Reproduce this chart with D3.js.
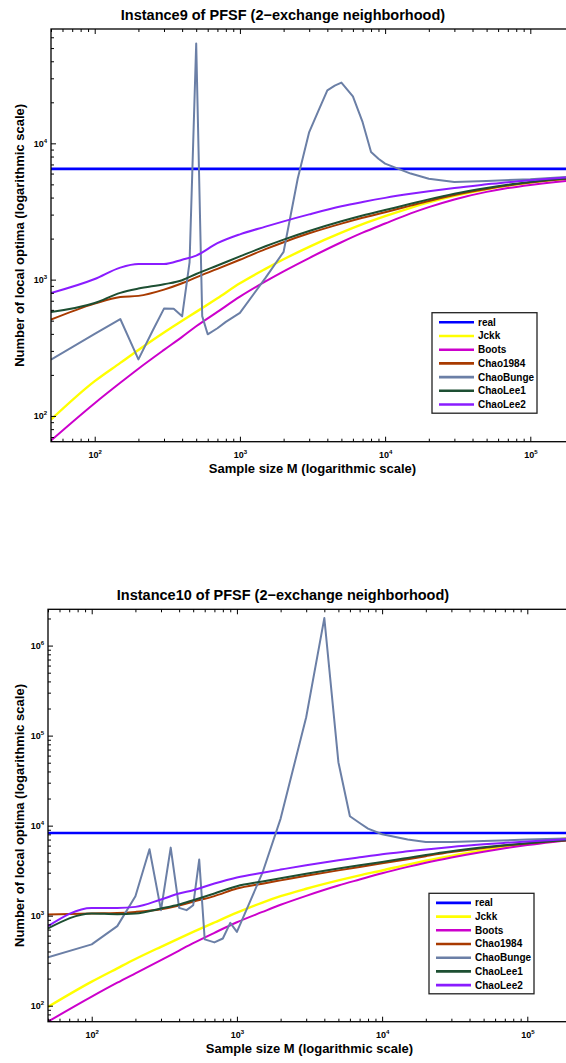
<!DOCTYPE html>
<html>
<head>
<meta charset="utf-8">
<script src="https://cdn.jsdelivr.net/npm/d3@7"></script>
<style>
  body { margin: 0; background: #fff; }
  svg { display: block; font-family: "Liberation Sans", Arial, Helvetica, sans-serif; }
</style>
</head>
<body>
<svg id="fig" width="566" height="1063"></svg>
<script>
// estimator sample sizes (M)
const sampleSizes = [50, 100, 150, 200, 300, 400, 500, 700, 1000, 1500, 2000, 3000, 5000, 7000,
  10000, 15000, 20000, 30000, 50000, 70000, 100000, 150000, 200000];

const seriesNames = ['real', 'Jckk', 'Boots', 'Chao1984', 'ChaoBunge', 'ChaoLee1', 'ChaoLee2'];
const seriesColors = ['#0000ff', '#ffff00', '#cc00cc', '#a83a00', '#6b7fa6', '#1d4f32', '#8a1cff'];

// ---- Instance9 ----
const real9 = 6500;
const jckk9 = [94, 180, 245, 305, 410, 500, 580, 730, 940, 1200, 1410, 1740, 2210, 2550,
  2920, 3364, 3687, 4115, 4605, 4892, 5163, 5421, 5580];
const boots9 = [66, 124, 175, 222, 305, 380, 455, 580, 750, 970, 1150, 1440, 1880, 2210,
  2580, 3060, 3403, 3876, 4403, 4694, 4952, 5200, 5351];
const chao1984_9 = [509, 667, 745, 760, 845, 940, 1040, 1200, 1400, 1673, 1882, 2187, 2577, 2843,
  3119, 3490, 3780, 4180, 4630, 4900, 5150, 5400, 5550];
const chaoLee1_9 = [578, 673, 800, 860, 925, 990, 1100, 1270, 1480, 1756, 1965, 2273, 2678, 2954,
  3241, 3600, 3880, 4270, 4700, 4960, 5200, 5440, 5580];
const chaoLee2_9 = [798, 1010, 1225, 1300, 1300, 1400, 1500, 1850, 2150, 2449, 2677, 3011, 3450, 3710,
  3980, 4262, 4450, 4710, 5000, 5188, 5350, 5548, 5680];
const bungeSizes9 = [50, 100, 150, 200, 250, 300, 350, 400, 450, 500, 550, 600, 700, 800, 900, 1000,
  1500, 2000, 2500, 3000, 3500, 4000, 4500, 5000, 6000, 7000, 8000, 9000, 10000, 15000, 20000,
  30000, 50000, 100000, 200000];
const chaoBunge9 = [259, 400, 514, 260, 420, 613, 611, 538, 1340, 54000, 540, 397, 440, 490, 530, 570,
  1030, 1600, 5500, 12100, 17700, 24500, 26500, 27900, 22100, 14300, 8630, 7700, 7100, 6000, 5500,
  5200, 5300, 5450, 5700];

// ---- Instance10 ----
const real10 = 8300;
const jckk10 = [97, 185, 260, 330, 451, 560, 660, 840, 1080, 1400, 1645, 1991, 2467, 2805,
  3178, 3693, 4073, 4619, 5330, 5815, 6333, 6922, 7330];
const boots10 = [66.5, 126, 180, 229, 321, 410, 495, 645, 845, 1100, 1320, 1660, 2160, 2520,
  2960, 3481, 3871, 4425, 5133, 5600, 6082, 6594, 6943];
const chao1984_10 = [1031, 1058, 1070, 1100, 1180, 1300, 1430, 1650, 2000, 2267, 2467, 2777, 3185, 3479,
  3810, 4240, 4580, 5080, 5660, 6000, 6330, 6700, 6920];
const chaoLee1_10 = [721, 1058, 1040, 1058, 1202, 1330, 1486, 1763, 2124, 2398, 2607, 2920, 3335, 3628,
  3950, 4380, 4720, 5200, 5740, 6060, 6380, 6730, 6950];
const chaoLee2_10 = [765, 1220, 1220, 1252, 1513, 1763, 1918, 2276, 2654, 2996, 3249, 3632, 4122, 4454,
  4823, 5180, 5430, 5800, 6200, 6440, 6680, 6930, 7100];
const bungeSizes10 = [50, 100, 150, 200, 250, 300, 350, 400, 450, 500, 550, 600, 700, 800, 900, 1000,
  1500, 2000, 3000, 4000, 5000, 6000, 7000, 8000, 10000, 15000, 20000, 30000, 50000, 100000, 200000];
const chaoBunge10 = [344, 480, 765, 1644, 5460, 1151, 5700, 1220, 1151, 1307, 4200, 545, 505, 558, 832, 661,
  3000, 11980, 160000, 2020000, 50700, 12700, 10700, 9270, 8020, 7000, 6580, 6580, 6740, 7000, 7200];

const xMajor = [100, 1000, 10000, 100000];

const svg = d3.select('#fig');

function drawPanel(p) {
  const g = svg.append('g');
  const x = d3.scaleLog().domain([50, 200000]).range([p.left, p.left + 145.2 * Math.log10(4000)]);
  const y = d3.scaleLog().domain(p.yDomain).range([p.bottom, p.top]);
  const [x0, x1] = x.range();

  g.append('text')
    .attr('x', 283).attr('y', p.titleY)
    .attr('text-anchor', 'middle')
    .style('font-size', '14.5px').style('font-weight', 'bold')
    .text(p.title);

  const clipId = 'clip' + p.id;
  g.append('clipPath').attr('id', clipId)
    .append('rect').attr('x', x0).attr('y', p.top).attr('width', x1 - x0).attr('height', p.bottom - p.top);

  // series, drawn in legend order
  const series = [
    { xs: [sampleSizes[0], sampleSizes[sampleSizes.length - 1]], ys: [p.real, p.real], w: 2.6, curve: d3.curveLinear },
    { xs: sampleSizes, ys: p.jckk, w: 2.4, curve: d3.curveMonotoneX },
    { xs: sampleSizes, ys: p.boots, w: 2, curve: d3.curveMonotoneX },
    { xs: sampleSizes, ys: p.chao1984, w: 2, curve: d3.curveMonotoneX },
    { xs: p.bungeSizes, ys: p.chaoBunge, w: 2, curve: d3.curveLinear },
    { xs: sampleSizes, ys: p.chaoLee1, w: 2, curve: d3.curveMonotoneX },
    { xs: sampleSizes, ys: p.chaoLee2, w: 2, curve: d3.curveMonotoneX }
  ];

  const plot = g.append('g').attr('clip-path', 'url(#' + clipId + ')');
  series.forEach((s, i) => {
    const line = d3.line().x(d => x(d[0])).y(d => y(d[1])).curve(s.curve);
    plot.append('path')
      .datum(s.xs.map((v, k) => [v, s.ys[k]]))
      .attr('d', line)
      .attr('fill', 'none')
      .attr('stroke', seriesColors[i])
      .attr('stroke-width', s.w)
      .attr('stroke-linejoin', 'round');
  });

  // axes: inward ticks on all sides
  const xMinor = x.ticks().filter(v => xMajor.indexOf(v) < 0);
  const yAll = y.ticks();
  const yMajor = yAll.filter(v => Math.abs(Math.log10(v) - Math.round(Math.log10(v))) < 1e-9);
  const yMinor = yAll.filter(v => yMajor.indexOf(v) < 0);

  const sup = (sel) => sel.each(function (d) {
    const t = d3.select(this).text('');
    t.append('tspan').text('10');
    t.append('tspan').attr('dy', -4).style('font-size', '6px').text(Math.round(Math.log10(d)));
  });

  const addAxis = (axis, transform, labelled) => {
    const a = g.append('g').attr('transform', transform).call(axis);
    a.select('.domain').remove();
    a.selectAll('.tick line').attr('stroke', '#000').attr('stroke-width', 1);
    if (labelled) {
      a.selectAll('.tick text').style('font-size', '9px').style('font-weight', 'bold').attr('fill', '#000').call(sup);
    } else {
      a.selectAll('.tick text').remove();
    }
    return a;
  };

  addAxis(d3.axisBottom(x).tickValues(xMinor).tickSize(-3).tickSizeOuter(0), `translate(0,${p.bottom})`, false);
  addAxis(d3.axisTop(x).tickValues(xMinor).tickSize(-3).tickSizeOuter(0), `translate(0,${p.top})`, false);
  addAxis(d3.axisBottom(x).tickValues(xMajor).tickSize(-5).tickSizeOuter(0).tickPadding(10), `translate(0,${p.bottom})`, true);
  addAxis(d3.axisTop(x).tickValues(xMajor).tickSize(-5).tickSizeOuter(0), `translate(0,${p.top})`, false);
  addAxis(d3.axisLeft(y).tickValues(yMinor).tickSize(-3).tickSizeOuter(0), `translate(${x0},0)`, false);
  addAxis(d3.axisLeft(y).tickValues(yMajor).tickSize(-5).tickSizeOuter(0).tickPadding(4), `translate(${x0},0)`, true);

  g.append('rect')
    .attr('x', x0).attr('y', p.top).attr('width', x1 - x0).attr('height', p.bottom - p.top)
    .attr('fill', 'none').attr('stroke', '#000').attr('stroke-width', 1.3);

  g.append('text')
    .attr('x', (x0 + x1) / 2).attr('y', p.bottom + 31)
    .attr('text-anchor', 'middle')
    .style('font-size', '13px').style('font-weight', 'bold')
    .text('Sample size M (logarithmic scale)');

  g.append('text')
    .attr('transform', `translate(24,${(p.top + p.bottom) / 2}) rotate(-90)`)
    .attr('text-anchor', 'middle')
    .style('font-size', '13px').style('font-weight', 'bold')
    .text('Number of local optima (logarithmic scale)');

  // legend
  const lg = g.append('g').attr('transform', `translate(${p.legend[0]},${p.legend[1]})`);
  lg.append('rect').attr('width', 105).attr('height', 100.5)
    .attr('fill', '#fff').attr('stroke', '#222').attr('stroke-width', 1.3);
  seriesNames.forEach((name, i) => {
    const ry = 9.6 + i * 13.7;
    lg.append('line').attr('x1', 7).attr('x2', 42).attr('y1', ry).attr('y2', ry)
      .attr('stroke', seriesColors[i]).attr('stroke-width', 2.6);
    lg.append('text').attr('x', 46).attr('y', ry).attr('dy', '0.35em')
      .style('font-size', '10px').style('font-weight', 'bold')
      .text(name);
  });
}

drawPanel({
  id: 9, title: 'Instance9 of PFSF (2\u2212exchange neighborhood)', titleY: 20,
  left: 51, top: 29, bottom: 441.7, yDomain: [64.7, 69000],
  real: real9, jckk: jckk9, boots: boots9, chao1984: chao1984_9, chaoLee1: chaoLee1_9, chaoLee2: chaoLee2_9,
  bungeSizes: bungeSizes9, chaoBunge: chaoBunge9,
  legend: [432, 312.7]
});

drawPanel({
  id: 10, title: 'Instance10 of PFSF (2\u2212exchange neighborhood)', titleY: 600,
  left: 48, top: 609.3, bottom: 1021.7, yDomain: [66.4, 2530000],
  real: real10, jckk: jckk10, boots: boots10, chao1984: chao1984_10, chaoLee1: chaoLee1_10, chaoLee2: chaoLee2_10,
  bungeSizes: bungeSizes10, chaoBunge: chaoBunge10,
  legend: [429, 893.3]
});
</script>
</body>
</html>
